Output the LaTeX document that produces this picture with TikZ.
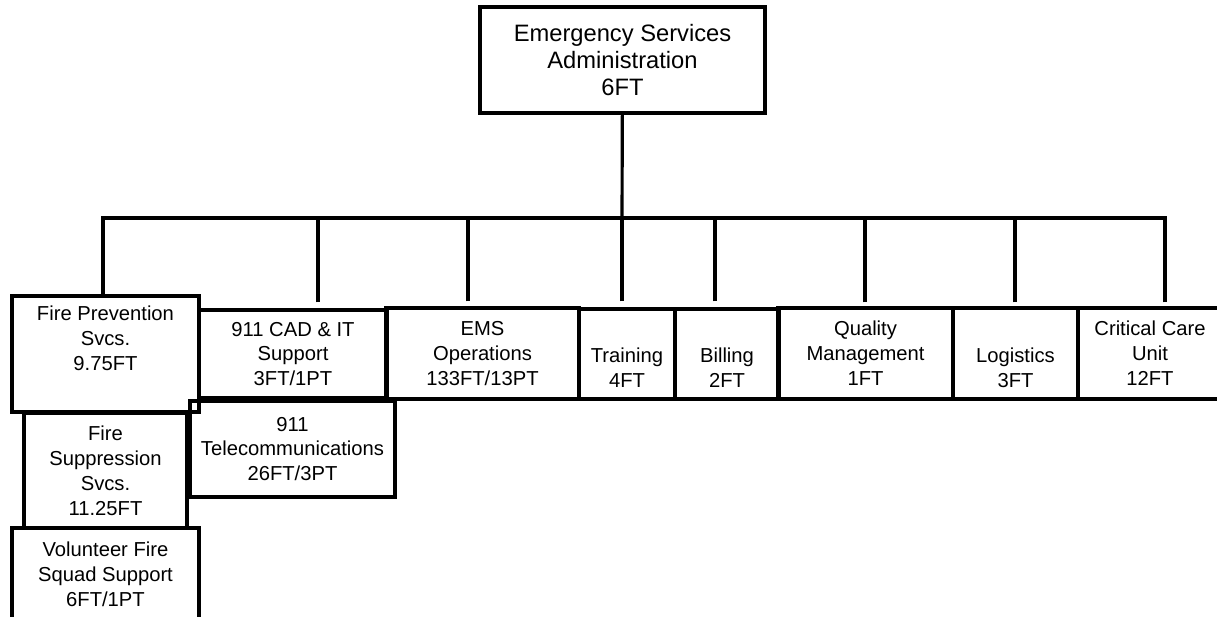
\documentclass[tikz,border=0pt]{standalone}
\usepackage{fontspec}
\setmainfont{Liberation Sans}
\newlength{\unitpx}
\setlength{\unitpx}{0.02cm}

\begin{document}
\begin{tikzpicture}[%
    x=0.02cm, y=-0.02cm,
    orgBox/.style={
        draw,
        line width=1.8pt,
        inner sep=0pt,
        align=center,
        font=\fontsize{11.5}{14.2}\selectfont,
    },
    orgLine/.style={line width=1.8pt},
]
% fix page size and cut the boxes at the border
\useasboundingbox (0,0) rectangle (1217,617);
\clip (0,0) rectangle (1217,617);

% top box
\node[orgBox, minimum width=285\unitpx, minimum height=106\unitpx,
    font=\fontsize{13.5}{15.1}\selectfont] (admin) at (622.5,60)
    {Emergency Services\\Administration\\6FT};

% fire column
\node[orgBox, minimum width=187\unitpx, minimum height=116\unitpx] (firePrev) at (105.5,354)
    {Fire Prevention\\Svcs.\\9.75FT\\\strut};
\node[orgBox, minimum width=163\unitpx, minimum height=115\unitpx] (fireSupp) at (105.5,470.5)
    {Fire\\Suppression\\Svcs.\\11.25FT};
\node[orgBox, minimum width=187\unitpx, minimum height=92\unitpx] (volunteer) at (105.5,574)
    {Volunteer Fire\\Squad Support\\6FT/1PT};

% 911 column
\node[orgBox, minimum width=188\unitpx, minimum height=88\unitpx] (cadIT) at (293,354)
    {911 CAD \& IT\\Support\\3FT/1PT};
\node[orgBox, minimum width=205\unitpx, minimum height=96\unitpx] (telecom) at (292.5,449)
    {911\\Telecommunications\\26FT/3PT};

% remaining units
\node[orgBox, minimum width=193\unitpx, minimum height=91\unitpx] (emsOps) at (482.5,353.5)
    {EMS\\Operations\\133FT/13PT};
\node[orgBox, minimum width=96\unitpx, minimum height=90\unitpx] (training) at (627,354)
    {\strut\\Training\\4FT};
\node[orgBox, minimum width=104\unitpx, minimum height=90\unitpx] (billing) at (727,354)
    {\strut\\Billing\\2FT};
\node[orgBox, minimum width=175\unitpx, minimum height=91\unitpx] (quality) at (865.5,353.5)
    {Quality\\Management\\1FT};
\node[orgBox, minimum width=125\unitpx, minimum height=91\unitpx] (logistics) at (1015.5,353.5)
    {\strut\\Logistics\\3FT};
\node[orgBox, minimum width=144\unitpx, minimum height=91\unitpx] (ccu) at (1150,353.5)
    {Critical Care\\Unit\\12FT};

% draw connectors
\coordinate (bus) at (622,218);
\draw[orgLine] (admin) -- (bus);
\foreach \n/\x/\g in {firePrev/103/0, cadIT/318/6, emsOps/468/5, training/622/6,
    billing/715/6, quality/865/4, logistics/1015/4, ccu/1165/4}{
    \draw[orgLine, shorten <=\g\unitpx] (\n.north -| \x,0) |- (bus);
}

\end{tikzpicture}
\end{document}
